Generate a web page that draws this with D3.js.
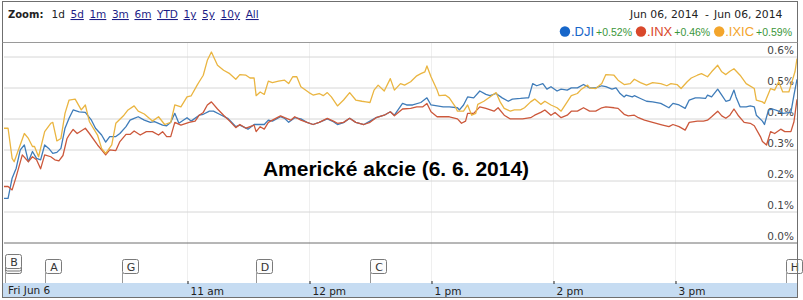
<!DOCTYPE html>
<html>
<head>
<meta charset="utf-8">
<script src="https://cdn.jsdelivr.net/npm/d3@7/dist/d3.min.js"></script>
<style>
	html, body { margin: 0; padding: 0; background: #fff; }
	svg { display: block; }
	.ui { font-family: 'DejaVu Sans', Verdana, sans-serif; }
</style>
</head>
<body>
<svg id="chart" width="803" height="300"></svg>
<script>
// minutes after 9:30 open, change in %
const djiSeries = [[0,0.141],[2,0.141],[4,0.206],[6,0.238],[8,0.297],[10,0.313],[12,0.259],[14,0.292],[16,0.270],[18,0.265],[20,0.313],[22,0.302],[24,0.286],[26,0.289],[28,0.302],[30,0.367],[32,0.399],[34,0.426],[37,0.420],[40,0.418],[43,0.393],[45,0.367],[48,0.345],[50,0.322],[52,0.340],[55,0.340],[57,0.350],[60,0.372],[62,0.393],[64,0.399],[66,0.404],[69,0.393],[72,0.386],[74,0.388],[78,0.377],[80,0.375],[82,0.386],[84,0.415],[86,0.383],[90,0.401],[92,0.390],[96,0.409],[98,0.412],[101,0.422],[103,0.422],[106,0.412],[110,0.399],[113,0.379],[114,0.372],[116,0.377],[120,0.364],[123,0.379],[126,0.379],[128,0.379],[130,0.393],[132,0.390],[136,0.404],[138,0.399],[140,0.386],[143,0.401],[146,0.397],[149,0.386],[152,0.379],[155,0.386],[159,0.397],[162,0.388],[164,0.379],[167,0.385],[170,0.399],[173,0.386],[177,0.379],[180,0.390],[183,0.401],[187,0.409],[190,0.420],[192,0.409],[196,0.447],[198,0.442],[201,0.442],[205,0.450],[208,0.465],[210,0.442],[213,0.439],[216,0.436],[219,0.436],[223,0.433],[224,0.426],[226,0.442],[228,0.468],[231,0.465],[234,0.487],[237,0.476],[239,0.472],[242,0.479],[245,0.465],[248,0.454],[250,0.461],[254,0.463],[257,0.465],[258,0.465],[260,0.511],[262,0.504],[265,0.511],[267,0.493],[269,0.501],[272,0.487],[274,0.493],[277,0.490],[279,0.497],[282,0.497],[285,0.508],[288,0.497],[291,0.497],[294,0.504],[296,0.501],[299,0.493],[301,0.497],[303,0.479],[305,0.468],[306,0.474],[309,0.468],[310,0.472],[313,0.463],[316,0.454],[319,0.452],[323,0.447],[327,0.433],[329,0.447],[332,0.442],[335,0.431],[337,0.458],[340,0.465],[342,0.465],[345,0.463],[346,0.474],[348,0.468],[351,0.493],[353,0.474],[355,0.454],[357,0.458],[359,0.490],[360,0.468],[362,0.436],[365,0.436],[367,0.439],[369,0.436],[370,0.409],[373,0.390],[374,0.379],[376,0.426],[378,0.429],[381,0.422],[383,0.415],[387,0.418],[388.5,0.474],[390,0.525]];

const inxSeries = [[0,0.179],[2,0.179],[4,0.168],[6,0.211],[9,0.281],[12,0.259],[14,0.275],[16,0.265],[18,0.236],[20,0.281],[23,0.275],[25,0.265],[27,0.262],[29,0.279],[31,0.334],[32,0.345],[34,0.363],[36,0.350],[40,0.367],[42,0.350],[46,0.313],[48,0.297],[50,0.281],[52,0.297],[55,0.295],[57,0.324],[60,0.347],[62,0.347],[64,0.358],[67,0.345],[70,0.356],[73,0.356],[76,0.345],[78,0.356],[80,0.340],[82,0.340],[84,0.386],[87,0.377],[91,0.386],[94,0.390],[96,0.409],[98,0.418],[100,0.442],[102,0.452],[105,0.429],[108,0.409],[111,0.390],[114,0.369],[116,0.379],[119,0.367],[123,0.377],[124,0.356],[126,0.372],[128,0.364],[130,0.386],[132,0.393],[136,0.407],[138,0.401],[141,0.393],[143,0.404],[146,0.393],[149,0.386],[152,0.379],[155,0.386],[159,0.399],[162,0.390],[164,0.383],[167,0.386],[170,0.399],[173,0.386],[177,0.379],[180,0.386],[183,0.401],[187,0.409],[190,0.420],[192,0.407],[196,0.429],[200,0.431],[203,0.436],[206,0.436],[208,0.447],[210,0.420],[213,0.404],[216,0.404],[219,0.404],[223,0.397],[225,0.383],[227,0.390],[228,0.415],[231,0.415],[234,0.436],[237,0.431],[241,0.422],[243,0.433],[246,0.409],[249,0.397],[252,0.397],[255,0.397],[259,0.401],[261,0.409],[264,0.418],[266,0.426],[269,0.409],[271,0.418],[274,0.401],[277,0.409],[279,0.422],[282,0.422],[285,0.433],[288,0.422],[291,0.422],[294,0.433],[296,0.436],[300,0.433],[302,0.431],[305,0.412],[307,0.407],[310,0.409],[312,0.401],[315,0.393],[319,0.386],[323,0.379],[327,0.372],[329,0.379],[332,0.372],[335,0.361],[337,0.386],[341,0.390],[344,0.390],[346,0.393],[348,0.404],[351,0.422],[353,0.407],[355,0.399],[357,0.409],[359,0.429],[361,0.409],[364,0.386],[367,0.383],[369,0.375],[372,0.340],[373,0.324],[375,0.313],[377,0.356],[379,0.350],[382,0.364],[384,0.356],[387,0.356],[388.5,0.388],[390,0.460]];

const ixicSeries = [[0,0.367],[2,0.367],[4,0.270],[5,0.259],[10,0.350],[12,0.334],[14,0.308],[15,0.308],[17,0.275],[20,0.356],[23,0.383],[24,0.386],[26,0.326],[28,0.334],[30,0.415],[32,0.458],[35,0.461],[38,0.426],[40,0.442],[42,0.388],[46,0.345],[48,0.302],[50,0.286],[53,0.313],[55,0.383],[59,0.409],[61,0.426],[64,0.439],[66,0.422],[69,0.413],[73,0.390],[76,0.404],[79,0.379],[82,0.386],[84,0.442],[87,0.436],[90,0.468],[92,0.471],[95,0.506],[96,0.517],[98,0.538],[100,0.586],[102,0.613],[105,0.570],[108,0.554],[111,0.543],[114,0.525],[116,0.540],[119,0.538],[121,0.529],[123,0.529],[124,0.472],[126,0.484],[128,0.476],[130,0.519],[132,0.514],[135,0.519],[138,0.522],[140,0.511],[142,0.533],[144,0.533],[146,0.501],[150,0.482],[152,0.474],[155,0.479],[157,0.472],[159,0.482],[161,0.468],[164,0.439],[167,0.458],[170,0.482],[173,0.458],[176,0.454],[178,0.452],[180,0.450],[182,0.490],[184,0.506],[187,0.487],[190,0.527],[192,0.490],[195,0.511],[197,0.506],[200,0.517],[203,0.536],[205,0.543],[207,0.549],[208,0.568],[210,0.533],[213,0.490],[214,0.472],[217,0.474],[219,0.465],[222,0.436],[223,0.422],[226,0.422],[228,0.442],[230,0.409],[232,0.415],[233,0.444],[236,0.454],[239,0.468],[242,0.482],[244,0.452],[246,0.431],[249,0.422],[251,0.426],[254,0.426],[256,0.433],[259,0.452],[261,0.461],[264,0.444],[266,0.454],[269,0.442],[272,0.433],[274,0.422],[277,0.452],[279,0.472],[282,0.479],[284,0.493],[287,0.506],[288,0.497],[291,0.495],[294,0.511],[296,0.540],[300,0.538],[302,0.522],[305,0.508],[308,0.511],[310,0.525],[313,0.514],[316,0.506],[319,0.514],[323,0.511],[326,0.504],[328,0.511],[331,0.508],[333,0.495],[336,0.517],[338,0.529],[341,0.538],[343,0.543],[346,0.533],[348,0.549],[351,0.570],[353,0.549],[355,0.540],[357,0.551],[359,0.559],[362,0.538],[365,0.511],[369,0.495],[370,0.458],[373,0.452],[374,0.447],[377,0.495],[379,0.490],[381,0.517],[383,0.484],[386,0.484],[387,0.506],[389,0.549],[390,0.592]];

const seriesNames = ['.DJI', '.INX', '.IXIC'];
const seriesChanges = ['+0.52%', '+0.46%', '+0.59%'];

const yTickValues = [0, 0.1, 0.2, 0.3, 0.4, 0.5, 0.6];
const xTickMinutes = [90, 150, 210, 270, 330];
const xTickLabels = ['11 am', '12 pm', '1 pm', '2 pm', '3 pm'];
const dayLabel = 'Fri Jun 6';

const zoomLabels = ['1d', '5d', '1m', '3m', '6m', 'YTD', '1y', '5y', '10y', 'All'];
const dateRange = ['Jun 06, 2014', '-', 'Jun 06, 2014'];

const eventLetters = ['B', 'A', 'G', 'D', 'C', 'H'];
const eventMinutes = [0.5, 20, 58, 124, 180, 384.5];

const chartTitle = 'Americké akcie (6. 6. 2014)';

(function() {
	'use strict';

	const svg = d3.select('#chart');

	const plot = { left: 4, right: 797, top: 42, zero: 242, band: 283 };
	const lineColors = ['#3f7cb9', '#cc583b', '#eab541'];
	const dotColors = ['#1766c9', '#d9482b', '#f3a52c'];
	const fontUi = "'DejaVu Sans', Verdana, sans-serif";
	const fontArial = "'Liberation Sans', Arial, sans-serif";

	const x = d3.scaleLinear().domain([0, 390]).range([plot.left, plot.right]);
	const y = d3.scaleLinear().domain([0, 0.6]).range([plot.zero, 56]);

	// vertical hour grid (very faint)
	svg.append('g')
		.selectAll('line')
		.data(xTickMinutes)
		.enter()
		.append('line')
		.attr('x1', d => Math.round(x(d)) + 0.5)
		.attr('x2', d => Math.round(x(d)) + 0.5)
		.attr('y1', plot.top)
		.attr('y2', plot.band)
		.attr('stroke', '#efefef');

	// horizontal grid + percentage labels
	const yAxis = d3.axisRight(y)
		.tickValues(yTickValues)
		.tickSize(plot.right - plot.left)
		.tickFormat(d => d3.format('.1f')(d) + '%');

	const gy = svg.append('g')
		.attr('transform', 'translate(' + plot.left + ',0.5)')
		.call(yAxis);
	gy.select('.domain').remove();
	gy.selectAll('.tick line')
		.attr('stroke', d => d === 0 ? '#6e6e6e' : '#d6d6d6');
	gy.selectAll('.tick text')
		.attr('x', plot.right - plot.left - 3)
		.attr('dy', -3.5)
		.attr('text-anchor', 'end')
		.attr('fill', '#444')
		.style('font-family', fontUi)
		.style('font-size', '10.5px');

	// title in middle of plot
	svg.append('text')
		.attr('x', 396)
		.attr('y', 176)
		.attr('text-anchor', 'middle')
		.style('font-family', fontArial)
		.style('font-weight', 'bold')
		.style('font-size', '21px')
		.attr('fill', '#000')
		.text(chartTitle);

	// series lines
	const line = d3.line()
		.x(d => x(d[0]))
		.y(d => y(d[1]));

	const allSeries = [djiSeries, inxSeries, ixicSeries];
	svg.append('g')
		.selectAll('path')
		.data(allSeries)
		.enter()
		.append('path')
		.attr('d', line)
		.attr('fill', 'none')
		.attr('stroke', (d, i) => lineColors[i])
		.attr('stroke-width', 1.3)
		.attr('stroke-linejoin', 'round');

	// bottom time band
	svg.append('rect')
		.attr('x', 3)
		.attr('y', plot.band)
		.attr('width', plot.right - 3)
		.attr('height', 14)
		.attr('fill', '#c6dcf2');

	const xAxis = d3.axisTop(x)
		.tickValues(xTickMinutes)
		.tickSize(3)
		.tickFormat((d, i) => xTickLabels[i]);

	const gx = svg.append('g')
		.attr('transform', 'translate(0.5,' + (plot.band + 1) + ')')
		.call(xAxis);
	gx.select('.domain').remove();
	gx.selectAll('.tick line').attr('stroke', '#222');
	gx.selectAll('.tick text')
		.attr('y', 10.5)
		.attr('x', 2.5)
		.attr('dy', 0)
		.attr('text-anchor', 'start')
		.attr('fill', '#222')
		.style('font-family', fontUi)
		.style('font-size', '10.5px');

	svg.append('text')
		.attr('x', 8)
		.attr('y', 294)
		.attr('fill', '#222')
		.style('font-family', fontUi)
		.style('font-size', '10.5px')
		.text(dayLabel);

	// event flags
	const flagW = 16, flagH = 14, flagTop = 259;
	const flags = svg.append('g')
		.selectAll('g')
		.data(eventLetters)
		.enter()
		.append('g')
		.attr('transform', (d, i) => 'translate(' + Math.round(x(eventMinutes[i])) + ',0)');

	flags.append('line')
		.attr('x1', 0.5).attr('x2', 0.5)
		.attr('y1', flagTop + flagH).attr('y2', plot.band)
		.attr('stroke', '#999');

	// stacked flag (several events at open)
	flags.filter(d => d === 'B')
		.selectAll('rect.stack')
		.data([0, -2.5])
		.enter()
		.append('rect')
		.attr('class', 'stack')
		.attr('x', 0.5)
		.attr('y', o => flagTop + o + 0.5)
		.attr('width', flagW)
		.attr('height', flagH)
		.attr('rx', 2)
		.attr('fill', '#fafafa')
		.attr('stroke', '#777');

	flags.append('rect')
		.attr('x', 0.5)
		.attr('y', d => (d === 'B' ? flagTop - 5 : flagTop) + 0.5)
		.attr('width', flagW)
		.attr('height', flagH)
		.attr('rx', 2)
		.attr('fill', '#fcfcfc')
		.attr('stroke', '#7a7a7a');

	flags.append('text')
		.attr('x', flagW / 2 + 1)
		.attr('y', d => (d === 'B' ? flagTop - 5 : flagTop) + 11.5)
		.attr('text-anchor', 'middle')
		.attr('fill', '#333')
		.style('font-family', fontUi)
		.style('font-size', '11px')
		.text(d => d);

	// outer frame
	svg.append('rect')
		.attr('x', 2.5)
		.attr('y', 1.5)
		.attr('width', 795)
		.attr('height', 296)
		.attr('fill', 'none')
		.attr('stroke', '#6f6f6f');

	svg.append('line')
		.attr('x1', 2.5).attr('x2', 797.5)
		.attr('y1', plot.top + 0.5).attr('y2', plot.top + 0.5)
		.attr('stroke', '#9a9a9a');

	// toolbar: zoom links
	const toolbar = svg.append('g').attr('class', 'ui');
	toolbar.append('text')
		.attr('x', 8)
		.attr('y', 18)
		.style('font-family', fontUi)
		.style('font-weight', 'bold')
		.style('font-size', '10px')
		.attr('fill', '#222')
		.text('Zoom:');

	let cursor = 51.5;
	zoomLabels.forEach(function(lbl, i) {
		const t = toolbar.append('text')
			.attr('x', cursor)
			.attr('y', 18)
			.style('font-family', fontUi)
			.style('font-size', '10.5px')
			.style('text-decoration', i === 0 ? 'none' : 'underline')
			.attr('fill', i === 0 ? '#222' : '#1d1d86')
			.text(lbl);
		cursor += t.node().getComputedTextLength() + 5.6;
	});

	// date range
	const datePos = [630, 705, 714];
	toolbar.selectAll('text.range')
		.data(dateRange)
		.enter()
		.append('text')
		.attr('class', 'range')
		.attr('x', (d, i) => datePos[i])
		.attr('y', 18)
		.style('font-family', fontUi)
		.style('font-size', '10.8px')
		.attr('fill', '#222')
		.text(d => d);

	// legend, laid out right to left
	const legend = svg.append('g');
	let lx = 792;
	for (let i = seriesNames.length - 1; i >= 0; i--) {
		const chg = legend.append('text')
			.attr('y', 35.5)
			.attr('text-anchor', 'end')
			.attr('x', lx)
			.style('font-family', fontArial)
			.style('font-size', '10.5px')
			.attr('fill', '#3a963a')
			.text(seriesChanges[i]);
		lx -= chg.node().getComputedTextLength() + 2;
		const nm = legend.append('text')
			.attr('y', 36)
			.attr('text-anchor', 'end')
			.attr('x', lx)
			.style('font-family', fontArial)
			.style('font-size', '13px')
			.attr('fill', dotColors[i])
			.text(seriesNames[i]);
		lx -= nm.node().getComputedTextLength() + 1;
		legend.append('circle')
			.attr('cx', lx - 5)
			.attr('cy', 31.5)
			.attr('r', 5.2)
			.attr('fill', dotColors[i]);
		lx -= 14;
	}
})();
</script>
</body>
</html>
